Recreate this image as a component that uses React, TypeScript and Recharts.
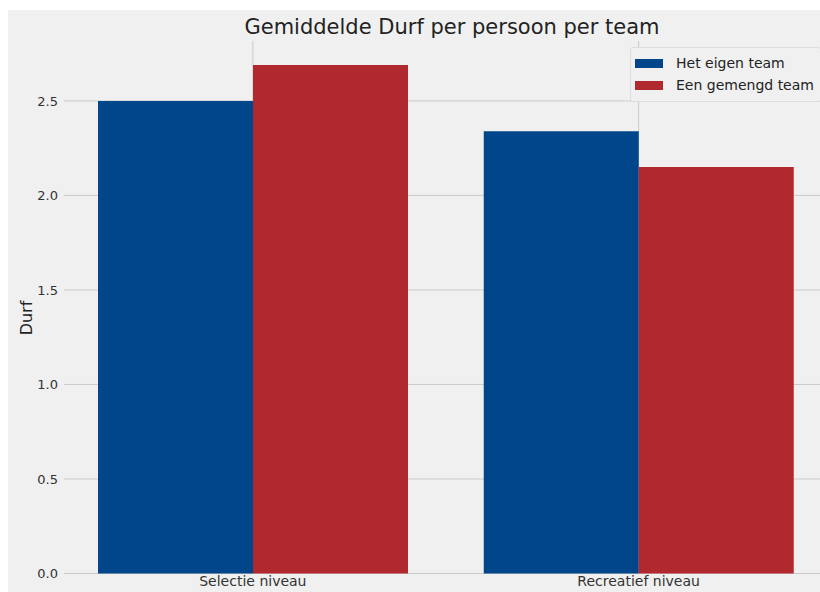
import { BarChart, Bar, XAxis, YAxis, CartesianGrid, Legend } from "recharts";

const categories = ["Selectie niveau", "Recreatief niveau"];
const eigenTeam = [2.5, 2.34];
const gemengdTeam = [2.69, 2.15];
const yTicks = [0, 0.5, 1.0, 1.5, 2.0, 2.5];

const BLUE = "#01468a";
const RED = "#b0292e";
const BG = "#f0f0f0";
const FONT = "'DejaVu Sans', sans-serif";

const data = categories.map((c, i) => ({
  name: c,
  eigen: eigenTeam[i],
  gemengd: gemengdTeam[i],
}));

const legendItems = [
  { label: "Het eigen team", color: BLUE },
  { label: "Een gemengd team", color: RED },
];

function LegendBox() {
  return (
    <div
      style={{
        background: BG,
        border: "1px solid #dedede",
        borderRadius: 3,
        padding: "4px 6px 5px 4px",
        fontFamily: FONT,
        fontSize: 14,
        color: "#222",
        whiteSpace: "nowrap",
      }}
    >
      {legendItems.map((it) => (
        <div key={it.label} style={{ display: "flex", alignItems: "center", height: 22 }}>
          <span style={{ width: 28, height: 9, background: it.color, display: "inline-block", marginRight: 13 }} />
          {it.label}
        </div>
      ))}
    </div>
  );
}

export default function App() {
  return (
    <div style={{ position: "absolute", left: 8, top: 10, width: 812, height: 582, overflow: "hidden", background: BG }}>
      <div
        style={{
          position: "absolute",
          left: 0,
          width: 888,
          top: 5,
          textAlign: "center",
          fontFamily: FONT,
          fontSize: 21,
          color: "#222",
          zIndex: 2,
        }}
      >
        Gemiddelde Durf per persoon per team
      </div>
      <div
        style={{
          position: "absolute",
          left: 18,
          top: 308,
          transform: "translate(-50%, -50%) rotate(-90deg)",
          fontFamily: FONT,
          fontSize: 16,
          color: "#222",
          zIndex: 2,
        }}
      >
        Durf
      </div>
      <BarChart
        width={830}
        height={582}
        data={data}
        margin={{ top: 31, right: 10.5, bottom: 0, left: 0 }}
        barCategoryGap={38}
        barGap={0}
      >
        <CartesianGrid stroke="#cbcbcb" strokeWidth={1} syncWithTicks />
        <XAxis
          dataKey="name"
          height={18.5}
          axisLine={false}
          tickLine={false}
          tickSize={0}
          tickMargin={3}
          padding={{ left: -4, right: -4 }}
          tick={{ fontFamily: FONT, fontSize: 14, fill: "#333" }}
          interval={0}
        />
        <YAxis
          width={56}
          domain={[0, 2.817]}
          ticks={yTicks}
          tickFormatter={(v: number) => v.toFixed(1)}
          axisLine={false}
          tickLine={false}
          tickSize={0}
          tickMargin={6}
          tick={{ fontFamily: FONT, fontSize: 13, fill: "#333" }}
        />
        <Legend
          layout="horizontal"
          verticalAlign="middle"
          align="center"
          content={<LegendBox />}
          wrapperStyle={{ position: "absolute", top: 37, left: 622, width: "auto" }}
        />
        <Bar dataKey="eigen" name="Het eigen team" fill={BLUE} isAnimationActive={false} />
        <Bar dataKey="gemengd" name="Een gemengd team" fill={RED} isAnimationActive={false} />
      </BarChart>
    </div>
  );
}
